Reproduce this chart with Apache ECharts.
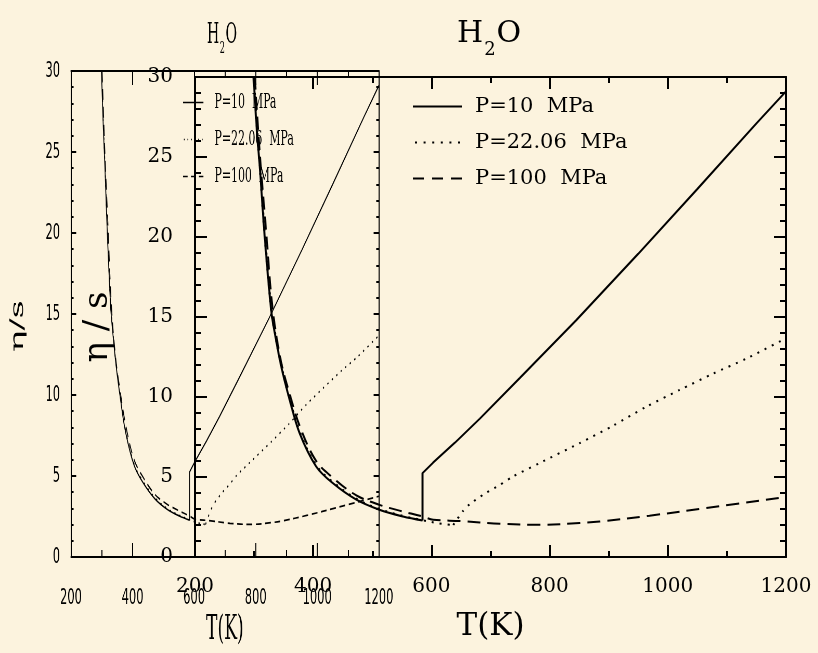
<!DOCTYPE html>
<html><head><meta charset="utf-8">
<script src="https://cdn.jsdelivr.net/npm/echarts@6/dist/echarts.min.js"></script>
<style>
html,body{margin:0;padding:0;background:#FCF3DE;overflow:hidden;}
#wrap{position:relative;width:818px;height:653px;overflow:hidden;background:#FCF3DE;}
#ca{position:absolute;left:0;top:0;width:1573px;height:653px;transform:scaleX(0.52);transform-origin:0 0;}
#cb{position:absolute;left:0;top:0;width:818px;height:653px;}
</style>
</head><body><div id="wrap"><div id="ca"></div><div id="cb"></div></div>
<script>
// ---- data ----
const seriesNames = ['P=10  MPa', 'P=22.06  MPa', 'P=100  MPa'];
const xMin = 200, xMax = 1200, xStep = 200;
const yMin = 0, yMax = 30, yStep = 5;

// P = 10 MPa : liquid branch, then jump and gas branch
const p10LiqT = [299, 305, 310, 318, 329, 335, 346, 360, 377, 405, 433, 473, 512, 552, 585];
const p10LiqV = [30, 26.5, 24.2, 20.0, 15.4, 14.0, 11.9, 9.85, 7.74, 5.66, 4.62, 3.58, 2.95, 2.53, 2.28];
const p10GasT = [585, 585, 603, 640, 682, 750, 845, 950, 1050, 1150, 1200];
const p10GasV = [2.28, 5.24, 5.9, 7.15, 8.65, 11.2, 14.8, 18.95, 23.0, 27.1, 29.1];

// P = 22.06 MPa : liquid branch down to the cusp, then gas branch
const p22LiqT = [300, 305, 310, 318, 329, 335, 346, 360, 377, 405, 433, 473, 512, 552, 585, 610, 637];
const p22LiqV = [30, 26.8, 24.4, 20.2, 15.5, 14.1, 12.0, 9.95, 7.85, 5.75, 4.7, 3.65, 3.0, 2.57, 2.3, 2.12, 2.0];
const p22GasT = [637, 653, 665, 690, 716, 738, 783, 851, 907, 964, 1020, 1076, 1133, 1200];
const p22GasV = [2.0, 2.85, 3.3, 3.95, 4.51, 5.03, 5.87, 7.12, 8.2, 9.4, 10.44, 11.45, 12.4, 13.67];

// P = 100 MPa : one continuous curve
const p100T = [301, 310, 320, 331, 345, 360, 378, 405, 435, 473, 512, 546, 585, 603, 648, 716, 783, 851, 885, 969, 1065, 1200];
const p100V = [30, 25.0, 20.5, 15.6, 12.3, 10.2, 8.1, 6.0, 4.9, 3.85, 3.26, 2.9, 2.53, 2.33, 2.25, 2.08, 2.01, 2.12, 2.22, 2.58, 3.06, 3.75];

const pair = (t, v) => t.map((x, i) => [x, v[i]]);
// [series index, data, smooth]
const branches = [
  [0, pair(p10LiqT, p10LiqV), 0.35],
  [0, pair(p10GasT, p10GasV), 0],
  [1, pair(p22LiqT, p22LiqV), 0.35],
  [1, pair(p22GasT, p22GasV), 0.25],
  [2, pair(p100T, p100V), 0.35]
];

// ---- styles ----
const INK = '#000';
const FS = 'DejaVu Serif';
const FN = 'DejaVu Sans';

// legend sample strokes, drawn as thin filled bars (solid, dotted, dashed)
const legendSegs = [
  [[0, 49]],
  [[0, 2], [8.6, 10.6], [17.2, 19.2], [25.8, 27.8], [34.4, 36.4], [43, 45]],
  [[0, 11], [19, 30], [38, 49]]
];
const segPath = segs => 'path://' + segs.map(([a, b]) => `M${a},0H${b}V2H${a}Z`).join('');

function buildOption(c) {
  function axis(isX, showLabels, pos) {
    const lw = c.axisWidth;
    return {
      type: 'value', position: pos,
      min: isX ? xMin : yMin, max: isX ? xMax : yMax, interval: isX ? xStep : yStep,
      axisLine: { show: true, onZero: false, lineStyle: { color: INK, width: lw } },
      axisTick: { show: true, inside: true, length: isX ? c.xTick : c.yTick, lineStyle: { color: INK, width: lw } },
      minorTick: { show: true, splitNumber: isX ? 2 : 5, length: isX ? c.xTick / 2 : c.yTick / 2, lineStyle: { color: INK, width: lw } },
      splitLine: { show: false },
      axisLabel: { show: showLabels, color: INK, formatter: v => String(v),
        fontFamily: c.tickFont, fontSize: isX ? c.xLabelSize : c.yLabelSize,
        margin: isX ? c.xLabelMargin : c.yLabelMargin }
    };
  }
  const series = branches.map(([si, data, sm]) => ({
    type: 'line', name: seriesNames[si], data: data, smooth: sm,
    symbol: 'none', showSymbol: false, clip: true,
    lineStyle: { color: INK, width: c.lineWidth, type: c.dashes[si] },
    itemStyle: { color: INK }
  }));
  const sub = {
    a: { fontFamily: FS, fontWeight: 'normal', fontSize: c.titleSize, lineHeight: c.titleSize + 2, verticalAlign: 'top', color: INK },
    b: { fontFamily: FS, fontWeight: 'normal', fontSize: Math.round(c.titleSize * 0.6), lineHeight: Math.round(c.titleSize * 0.6),
         padding: [Math.round(c.titleSize * 0.72), 1, 0, 1], verticalAlign: 'top', color: INK }
  };
  return {
    backgroundColor: 'transparent',
    animation: false,
    title: { text: '{a|H}{b|2}{a|O}', left: c.titleLeft, top: c.titleTop, padding: 0, textStyle: { rich: sub } },
    legend: {
      orient: 'vertical', left: c.legLeft, top: c.legTop, padding: 0,
      itemWidth: c.legIconW, itemHeight: c.legIconH, itemGap: c.legGap, selectedMode: false,
      data: seriesNames.map((nm, i) => ({ name: nm, icon: segPath(legendSegs[i]),
        itemStyle: { color: INK, borderWidth: 0 } })),
      textStyle: { fontFamily: FS, fontSize: c.legFont, color: INK, padding: [0, 0, 0, c.legTextPad] }
    },
    grid: { left: c.gl, top: c.gt, width: c.gw, height: c.gh },
    xAxis: [
      Object.assign(axis(true, true, 'bottom'), {
        name: 'T(K)', nameLocation: 'middle', nameGap: c.xNameGap,
        nameTextStyle: { fontFamily: FS, fontSize: c.xNameSize, color: INK } }),
      axis(true, false, 'top')
    ],
    yAxis: [
      Object.assign(axis(false, true, 'left'), {
        name: c.yName, nameLocation: 'middle', nameGap: c.yNameGap,
        nameTextStyle: { fontFamily: FS, fontSize: c.yNameSize, color: INK, padding: c.yNamePad } }),
      axis(false, false, 'right')
    ],
    series: series
  };
}

// small squashed copy (drawn in a div compressed horizontally by 0.52)
const cfgA = {
  gl: 136.5, gt: 71, gw: 592, gh: 486,
  axisWidth: 2, xTick: 14, yTick: 10, lineWidth: 1.7,
  dashes: ['solid', [2.5, 7], [11, 7]],
  tickFont: FN, xLabelSize: 22, yLabelSize: 22, xLabelMargin: 30, yLabelMargin: 21,
  xNameGap: 52, xNameSize: 33, yName: 'η/s', yNameGap: 84, yNameSize: 36, yNamePad: [0, 24, 0, 0],
  titleSize: 27, titleLeft: 398, titleTop: 22,
  legLeft: 352, legTop: 92, legIconW: 48, legIconH: 1.6, legGap: 16, legFont: 21, legTextPad: 12
};
// large version
const cfgB = {
  gl: 195, gt: 77, gw: 591, gh: 480,
  axisWidth: 2, xTick: 12, yTick: 12, lineWidth: 2,
  dashes: ['solid', [2, 6], [13, 7]],
  tickFont: FS, xLabelSize: 20, yLabelSize: 20, xLabelMargin: 20, yLabelMargin: 22,
  xNameGap: 54, xNameSize: 31, yName: 'η / s', yNameGap: 80, yNameSize: 34, yNamePad: [0, 20, 0, 0],
  titleSize: 30, titleLeft: 457, titleTop: 19,
  legLeft: 413, legTop: 96, legIconW: 49, legIconH: 2, legGap: 15, legFont: 21, legTextPad: 8
};

echarts.init(document.getElementById('ca'), null, { renderer: 'canvas' }).setOption(buildOption(cfgA));
echarts.init(document.getElementById('cb'), null, { renderer: 'canvas' }).setOption(buildOption(cfgB));
</script></body></html>
